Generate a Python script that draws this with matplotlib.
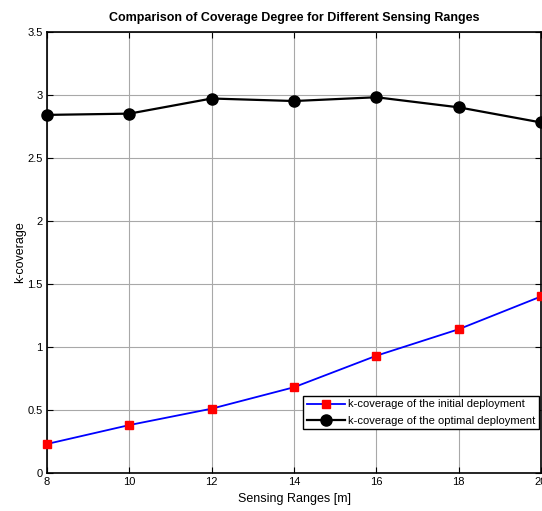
import matplotlib
matplotlib.use("Agg")
import matplotlib.pyplot as plt

plt.rcParams['font.family'] = ['Liberation Sans', 'DejaVu Sans']

ranges = [8, 10, 12, 14, 16, 18, 20]
initial = [0.23, 0.38, 0.51, 0.68, 0.93, 1.14, 1.40]
optimal = [2.84, 2.85, 2.97, 2.95, 2.98, 2.90, 2.78]
xticks = [8, 10, 12, 14, 16, 18, 20]
yticks = [0, 0.5, 1, 1.5, 2, 2.5, 3, 3.5]

fig = plt.figure(figsize=(5.42, 5.11), dpi=100)
ax = fig.add_axes([0.0867, 0.0744, 0.9115, 0.8636])

ax.plot(ranges, initial, color='blue', lw=1.3, marker='s', ms=6,
        mfc='red', mec='red', label='k-coverage of the initial deployment', clip_on=False, zorder=3)
ax.plot(ranges, optimal, color='black', lw=1.6, marker='o', ms=8,
        mfc='black', mec='black', label='k-coverage of the optimal deployment', clip_on=False, zorder=3)

ax.set_xlim(8, 20)
ax.set_ylim(0, 3.5)
ax.set_xticks(xticks)
ax.set_xticklabels([str(t) for t in xticks])
ax.set_yticks(yticks)
ax.set_yticklabels(['0', '0.5', '1', '1.5', '2', '2.5', '3', '3.5'])
ax.tick_params(direction='in', top=True, right=True, labelsize=8, length=4, width=0.8, pad=3)
ax.grid(True, color='#a8a8a8', lw=0.8, ls='-')
for s in ax.spines.values():
    s.set_linewidth(1.2)

ax.set_title('Comparison of Coverage Degree for Different Sensing Ranges',
             fontsize=9, fontweight='bold', pad=8)
ax.set_xlabel('Sensing Ranges [m]', fontsize=9, labelpad=4)
ax.set_ylabel('k-coverage', fontsize=9, labelpad=1)

leg = ax.legend(loc='lower right', bbox_to_anchor=(1.0, 0.095), fontsize=8,
                frameon=True, fancybox=False, edgecolor='black', framealpha=1,
                borderpad=0.35, labelspacing=0.55, handlelength=3.4, handletextpad=0.3,
                borderaxespad=0.15)
leg.get_frame().set_linewidth(1.0)

fig.savefig('out.png', dpi=100)
